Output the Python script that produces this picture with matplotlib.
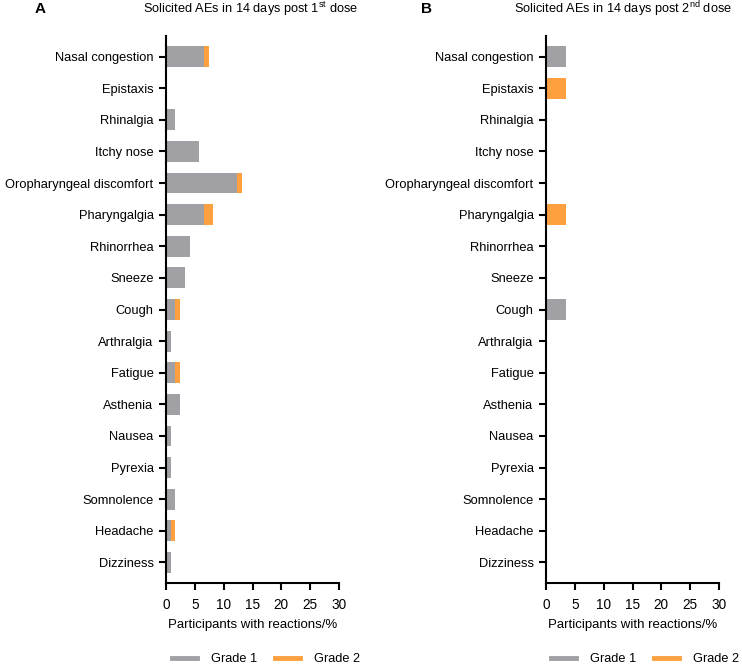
import matplotlib
matplotlib.use("Agg")
import matplotlib.pyplot as plt
from matplotlib.lines import Line2D
import numpy as np

plt.rcParams['font.family'] = ['Liberation Sans', 'DejaVu Sans']
plt.rcParams['mathtext.fontset'] = 'custom'
plt.rcParams['mathtext.rm'] = 'Liberation Sans'

categories = ["Nasal congestion", "Epistaxis", "Rhinalgia", "Itchy nose",
              "Oropharyngeal discomfort", "Pharyngalgia", "Rhinorrhea", "Sneeze",
              "Cough", "Arthralgia", "Fatigue", "Asthenia", "Nausea", "Pyrexia",
              "Somnolence", "Headache", "Dizziness"]
dose1_grade1 = [6.56, 0, 1.64, 5.74, 12.30, 6.56, 4.10, 3.28, 1.64, 0.82, 1.64, 2.46, 0.82, 0.82, 1.64, 0.82, 0.82]
dose1_grade2 = [0.82, 0, 0, 0, 0.82, 1.64, 0, 0, 0.82, 0, 0.82, 0, 0, 0, 0, 0.82, 0]
dose2_grade1 = [3.45, 0, 0, 0, 0, 0, 0, 0, 3.45, 0, 0, 0, 0, 0, 0, 0, 0]
dose2_grade2 = [0, 3.45, 0, 0, 0, 3.45, 0, 0, 0, 0, 0, 0, 0, 0, 0, 0, 0]
xticks = [0, 5, 10, 15, 20, 25, 30]

GRAY = "#a0a0a5"
ORANGE = "#ffa040"

W, H = 742, 664
fig = plt.figure(figsize=(W / 100, H / 100), dpi=100)

def px_axes(left, right, top, bottom):
    return fig.add_axes([left / W, 1 - bottom / H, (right - left) / W, (bottom - top) / H])

axA = px_axes(166, 339, 36, 583)
axB = px_axes(546, 719, 36, 583)

y = np.arange(len(categories))
for ax, g1, g2 in [(axA, dose1_grade1, dose1_grade2), (axB, dose2_grade1, dose2_grade2)]:
    g1 = np.array(g1); g2 = np.array(g2)
    ax.barh(y, g1, height=0.66, color=GRAY, edgecolor='none')
    ax.barh(y, g2, left=g1, height=0.66, color=ORANGE, edgecolor='none')
    ax.set_ylim(len(categories) - 0.35, -0.65)
    ax.set_xlim(0, 30)
    ax.set_xticks(xticks)
    ax.set_xticklabels([str(t) for t in xticks], fontsize=9.8)
    ax.set_yticks(y)
    ax.set_yticklabels(categories, fontsize=9.3)
    for s in ['top', 'right']:
        ax.spines[s].set_visible(False)
    for s in ['left', 'bottom']:
        ax.spines[s].set_linewidth(1.5)
    ax.tick_params(axis='both', direction='out', length=5, width=1.5)
    ax.tick_params(axis='x', pad=6)
    ax.tick_params(axis='y', pad=4)
    ax.set_xlabel("Participants with reactions/%", fontsize=9.5, labelpad=5)

fig.text(40 / W, 1 - 9 / H, "A", fontsize=11, fontweight='bold', va='center', ha='center')
fig.text(358 / W, 1 - 9 / H, r"Solicited AEs in 14 days post 1$^{\rm st}$ dose", fontsize=9.2, va='center', ha='right')
fig.text(427 / W, 1 - 9 / H, "B", fontsize=11, fontweight='bold', va='center', ha='center')
fig.text(732 / W, 1 - 9 / H, r"Solicited AEs in 14 days post 2$^{\rm nd}$ dose", fontsize=9.2, va='center', ha='right')

handles = [Line2D([0], [0], color=GRAY, lw=3.5), Line2D([0], [0], color=ORANGE, lw=3.5)]
for x0 in [172 / W, 551 / W]:
    fig.legend(handles, ["Grade 1", "Grade 2"], loc='center left', bbox_to_anchor=(x0, 1 - 659 / H),
               ncol=2, frameon=False, fontsize=9.2, handlelength=1.95, columnspacing=1.4,
               handletextpad=1.1, borderpad=0, borderaxespad=0)

fig.savefig("out.png", dpi=100)
